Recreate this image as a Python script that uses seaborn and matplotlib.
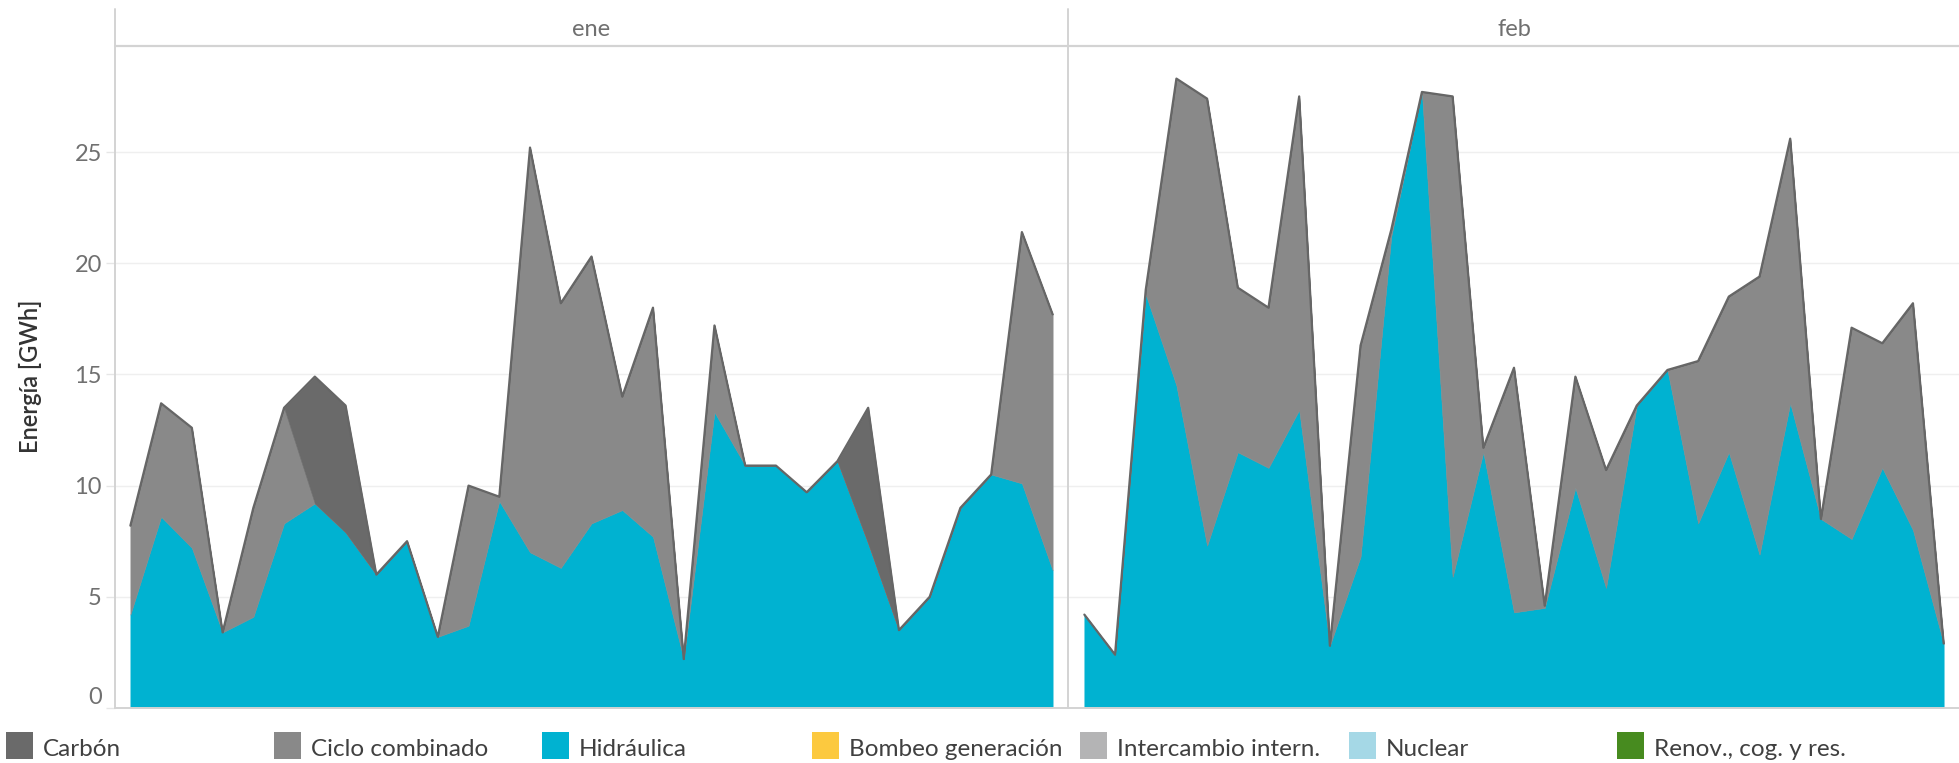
import numpy as np
import pandas as pd
import matplotlib
matplotlib.use("Agg")
import matplotlib.pyplot as plt
import seaborn as sns
from matplotlib.patches import Rectangle
from matplotlib.lines import Line2D

# ---------------- data ----------------
months = ["ene", "feb"]
ene_days = list(range(1, 32))
feb_days = list(range(1, 30))

ene_hidraulica = [4.2, 8.6, 7.2, 3.4, 4.1, 8.3, 9.2, 7.9, 6.0, 7.5, 3.2, 3.7, 9.3, 7.0, 6.3, 8.3,
                  8.9, 7.7, 2.2, 13.3, 10.9, 10.9, 9.7, 11.1, 7.4, 3.5, 5.0, 9.0, 10.5, 10.1, 6.2]
ene_ciclo = [4.0, 5.1, 5.4, 0.0, 4.9, 5.2, 0.0, 0.0, 0.0, 0.0, 0.0, 6.3, 0.2, 18.2, 11.9, 12.0,
             5.1, 10.3, 0.0, 3.9, 0.0, 0.0, 0.0, 0.0, 0.0, 0.0, 0.0, 0.0, 0.0, 11.3, 11.5]
ene_carbon = [0.0, 0.0, 0.0, 0.0, 0.0, 0.0, 5.7, 5.7, 0.0, 0.0, 0.0, 0.0, 0.0, 0.0, 0.0, 0.0,
              0.0, 0.0, 0.0, 0.0, 0.0, 0.0, 0.0, 0.0, 6.1, 0.0, 0.0, 0.0, 0.0, 0.0, 0.0]

feb_hidraulica = [4.2, 2.4, 18.6, 14.5, 7.3, 11.5, 10.8, 13.4, 2.8, 6.8, 21.2, 27.7, 5.9, 11.5, 4.3,
                  4.5, 9.9, 5.4, 13.6, 15.2, 8.3, 11.5, 6.9, 13.7, 8.5, 7.6, 10.8, 8.0, 2.9]
feb_ciclo = [0.0, 0.0, 0.2, 13.8, 20.1, 7.4, 7.2, 14.1, 0.0, 9.5, 0.3, 0.0, 21.6, 0.2, 11.0,
             0.1, 5.0, 5.3, 0.0, 0.0, 7.3, 7.0, 12.5, 11.9, 0.0, 9.5, 5.6, 10.2, 0.0]
feb_carbon = [0.0, 0.0, 0.0, 0.0, 0.0, 0.0, 0.0, 0.0, 0.0, 0.0, 0.0, 0.0, 0.0, 0.0, 0.0,
              0.0, 0.0, 0.0, 0.0, 0.0, 0.0, 0.0, 0.0, 0.0, 0.0, 0.0, 0.0, 0.0, 0.0]

legend_labels = ["Carbón", "Ciclo combinado", "Hidráulica", "Bombeo generación",
                 "Intercambio intern.", "Nuclear", "Renov., cog. y res."]
legend_colors = ["#6a6a6a", "#898989", "#00b2d1", "#fcc93f", "#b4b4b5", "#a5d8e6", "#478b1f"]
y_ticks = [0, 5, 10, 15, 20, 25]
y_label = "Energía [GWh]"

# ---------------- style ----------------
sns.set_theme(style="white")
plt.rcParams["font.family"] = ["Lato", "DejaVu Sans"]

W, H = 1959, 763
fig = plt.figure(figsize=(W / 100, H / 100), dpi=100)


def fx(px):
    return px / W


def fy(py):
    return 1 - py / H


Y0, YTOP = 708, 46
PX_PER_UNIT = 22.24
ymax = (Y0 - YTOP) / PX_PER_UNIT
line_col = "#d3d3d3"
outline_col = "#666666"
color_map = dict(zip(legend_labels, legend_colors))

panels = [
    ("ene", ene_days, ene_hidraulica, ene_ciclo, ene_carbon, 115, 1068),
    ("feb", feb_days, feb_hidraulica, feb_ciclo, feb_carbon, 1069, 1959),
]

for i, (name, days, hid, cic, car, left, right) in enumerate(panels):
    ax = fig.add_axes([fx(left), fy(Y0), (right - left) / W, (Y0 - YTOP) / H])
    df = pd.DataFrame({"dia": days, "Hidráulica": hid, "Ciclo combinado": cic, "Carbón": car})
    order = ["Hidráulica", "Ciclo combinado", "Carbón"]
    ax.stackplot(df["dia"], *[df[c] for c in order],
                 colors=[color_map[c] for c in order],
                 edgecolor="face", linewidth=0.4, zorder=2)
    df["total"] = df[order].sum(axis=1)
    sns.lineplot(data=df, x="dia", y="total", ax=ax, color=outline_col,
                 linewidth=1.6, zorder=4, legend=False)
    ax.set_xlim(0.5, len(days) + 0.5)
    ax.set_ylim(0, ymax)
    ax.set_yticks(y_ticks)
    ax.set_xticks([])
    ax.set_xlabel("")
    ax.set_ylabel("")
    ax.grid(axis="y", color="#efefef", linewidth=1.0, zorder=0)
    ax.set_axisbelow(True)
    for s in ax.spines.values():
        s.set_visible(False)
    if i == 0:
        ax.tick_params(axis="y", length=6.5, width=1.0, color="#e6e6e6",
                       labelsize=17, labelcolor="#707070", pad=3, left=True)
        labs = ax.get_yticklabels()
        labs[0].set_verticalalignment("bottom")
    else:
        ax.tick_params(axis="y", left=False, labelleft=False)
    ax.patch.set_alpha(0)
    fig.text(fx((left + right) / 2), fy(29), name, ha="center", va="center",
             fontsize=17, color="#707070")

# frame lines (strip bottom, left axis, panel divider, bottom axis)
fig.add_artist(Line2D([fx(115), fx(1959)], [fy(46), fy(46)], color=line_col, lw=1.6))
fig.add_artist(Line2D([fx(115), fx(1959)], [fy(708), fy(708)], color=line_col, lw=1.4))
fig.add_artist(Line2D([fx(115), fx(115)], [fy(9), fy(708)], color=line_col, lw=1.4))
fig.add_artist(Line2D([fx(1068), fx(1068)], [fy(9), fy(708)], color=line_col, lw=1.4))

# y axis label
fig.text(fx(30), fy(376), y_label, rotation=90, ha="center", va="center",
         fontsize=17, color="#333333", fontweight="semibold")

# legend
leg_x = [6, 274, 542, 812, 1080, 1349, 1617]
for lx, lab, col in zip(leg_x, legend_labels, legend_colors):
    fig.add_artist(Rectangle((fx(lx), fy(759)), 27 / W, 27 / H, facecolor=col,
                             edgecolor="none", transform=fig.transFigure))
    fig.text(fx(lx + 37), fy(756), lab, ha="left", va="baseline",
             fontsize=17.5, color="#404040")

fig.savefig("out.png", dpi=100)
